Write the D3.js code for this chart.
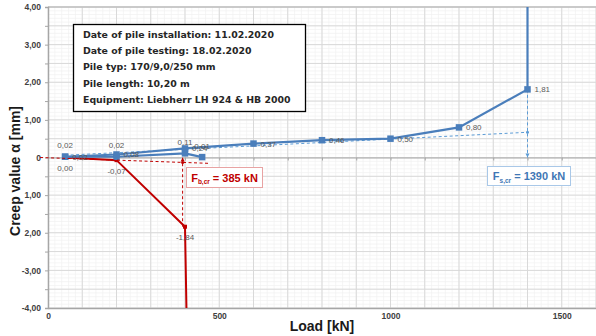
<!DOCTYPE html>
<html><head><meta charset="utf-8">
<script src="https://cdn.jsdelivr.net/npm/d3@7"></script>
<style>
body{margin:0;background:#fff}
svg{display:block;font-family:"Liberation Sans",Arial,sans-serif}
</style>
</head><body><svg id="c" width="596" height="336"></svg>
<script>
// ---- data ----
const loadsA = [50, 200, 400, 600, 800, 1000, 1200, 1400, 1400];
const creepA = [0.02, 0.08, 0.24, 0.37, 0.46, 0.50, 0.80, 1.81, 4.4];
const labelsA = ["0,02", "0,08", "0,24", "0,37", "0,46", "0,50", "0,80", "1,81", null];
const loadsB = [50, 200, 400, 450];
const creepB = [0.02, 0.02, 0.11, 0.01];
const labelsB = ["0,02", "0,02", "0,11", "0,01"];
const loadsR = [50, 200, 400, 405];
const creepR = [0.00, -0.07, -1.84, -4.4];
const labelsR = ["0,00", "-0,07", "-1,84", null];
const tangentSLoads = [50, 1400];
const tangentSCreep = [0.06, 0.67];
const tangentBLoads = [-23, 470];
const tangentBCreep = [0.00, -0.155];
const critLoadsDrawn = [393, 1400];      // where the critical-load arrows meet the axis
const critCreepStart = [-1.84, 1.81];
const critCreepTangent = [-0.13, 0.67];
const critText = ["385 kN", "1390 kN"];
const critSub = ["b,cr", "s,cr"];
const xTicks = [0, 500, 1000, 1500];
const yTicks = [4, 3, 2, 1, 0, -1, -2, -3, -4];
const yTickLabels = ["4,00", "3,00", "2,00", "1,00", "0", "1,00", "2,00", "-3,00", "-4,00"];
const infoLines = [
  "Date of pile installation: 11.02.2020",
  "Date of pile testing: 18.02.2020",
  "Pile typ: 170/9,0/250 mm",
  "Pile length: 10,20 m",
  "Equipment: Liebherr LH 924 & HB 2000"
];

// ---- layout ----
const svg = d3.select("#c");
const L = 48, R = 596, T = 7, B = 308;
const x = d3.scaleLinear([0, 1600], [L, R]);
const y = d3.scaleLinear([-4, 4], [B, T]);
const BLUE = "#4a7ebb", BLUE_L = "#5b9bd5", RED = "#c00000";

svg.append("defs").append("clipPath").attr("id", "clip")
  .append("rect").attr("x", L).attr("y", T).attr("width", R - L).attr("height", B - T);

// grid
const g = svg.append("g");
const minorX = d3.range(0, 1601, 20), minorY = d3.range(-4, 4.001, 0.1);
g.selectAll(".mx").data(minorX).join("line")
  .attr("x1", d => x(d)).attr("x2", d => x(d)).attr("y1", T).attr("y2", B)
  .attr("stroke", "#f0f0f0").attr("stroke-width", 0.7);
g.selectAll(".my").data(minorY).join("line")
  .attr("y1", d => y(d)).attr("y2", d => y(d)).attr("x1", L).attr("x2", R)
  .attr("stroke", "#f0f0f0").attr("stroke-width", 0.7);
g.selectAll(".Mx").data(d3.range(100, 1601, 100)).join("line")
  .attr("x1", d => x(d)).attr("x2", d => x(d)).attr("y1", T).attr("y2", B)
  .attr("stroke", "#d9d9d9").attr("stroke-width", 1);
g.selectAll(".My").data(d3.range(-4, 4.001, 0.5)).join("line")
  .attr("y1", d => y(d)).attr("y2", d => y(d)).attr("x1", L).attr("x2", R)
  .attr("stroke", "#d9d9d9").attr("stroke-width", 1);
// top border
g.append("line").attr("x1", L).attr("x2", R).attr("y1", T).attr("y2", T).attr("stroke", "#bfbfbf").attr("stroke-width", 1.5);

// y axis
const ya = svg.append("g").attr("transform", `translate(${L},0)`)
  .call(d3.axisLeft(y).tickValues(d3.range(-4, 4.001, 0.5)).tickSize(3)
    .tickFormat(d => { const i = yTicks.indexOf(d); return i >= 0 ? yTickLabels[i] : ""; }));
ya.select(".domain").attr("stroke", "#a6a6a6").attr("stroke-width", 1.5);
ya.selectAll(".tick line").attr("stroke", "#a6a6a6");
ya.selectAll("text").attr("font-size", 8.5).attr("font-weight", "bold").attr("fill", "#404040").attr("dx", "-1");

// x axis at bottom
const xa = svg.append("g").attr("transform", `translate(0,${B})`)
  .call(d3.axisBottom(x).tickValues(xTicks).tickSize(0).tickPadding(5).tickFormat(d3.format("d")));
xa.select(".domain").attr("stroke", "#a6a6a6").attr("stroke-width", 1.5);
xa.selectAll("text").attr("font-size", 8.5).attr("font-weight", "bold").attr("fill", "#404040");

// zero line with ticks
const za = svg.append("g").attr("transform", `translate(0,${y(0)})`)
  .call(d3.axisBottom(x).tickValues(d3.range(0, 1601, 100)).tickSize(3).tickFormat(""));
za.select(".domain").attr("stroke", "#a6a6a6");
za.selectAll(".tick line").attr("stroke", "#a6a6a6");

// axis titles
svg.append("text").attr("x", 322).attr("y", 331).attr("text-anchor", "middle")
  .attr("font-size", 14).attr("font-weight", "bold").attr("fill", "#1a1a1a").text("Load [kN]");
svg.append("text").attr("transform", `translate(20,171) rotate(-90)`).attr("text-anchor", "middle")
  .attr("font-size", 14).attr("font-weight", "bold").attr("fill", "#1a1a1a").text("Creep value α [mm]");

// plot content
const p = svg.append("g").attr("clip-path", "url(#clip)");
const line = d3.line().x(d => x(d[0])).y(d => y(d[1]));
const zip = (a, b) => a.map((v, i) => [v, b[i]]);

// dashed tangents
p.append("path").attr("d", line(zip(tangentSLoads, tangentSCreep))).attr("fill", "none")
  .attr("stroke", BLUE_L).attr("stroke-width", 1).attr("stroke-dasharray", "3,2.5");
svg.append("path").attr("d", line(zip(tangentBLoads, tangentBCreep))).attr("fill", "none")
  .attr("stroke", RED).attr("stroke-width", 1).attr("stroke-dasharray", "3,2.5");

// critical vertical arrows
const critCol = [RED, BLUE_L];
critLoadsDrawn.forEach((c, i) => {
  p.append("line").attr("x1", x(c)).attr("x2", x(c)).attr("y1", y(critCreepStart[i])).attr("y2", y(0))
    .attr("stroke", critCol[i]).attr("stroke-width", 1).attr("stroke-dasharray", "3,2.5");
  const dir = critCreepStart[i] < 0 ? 1 : -1; // arrow points toward axis
  const ay = y(0);
  svg.append("path").attr("d", `M${x(c)},${ay} l-2,${dir * 4} l4,0 z`).attr("fill", critCol[i]);
  svg.append("circle").attr("cx", x(c)).attr("cy", y(critCreepTangent[i])).attr("r", 1.5).attr("fill", critCol[i]);
});

// series lines
p.append("path").attr("d", line(zip(loadsR, creepR))).attr("fill", "none").attr("stroke", RED).attr("stroke-width", 2);
p.append("path").attr("d", line(zip(loadsB, creepB))).attr("fill", "none").attr("stroke", BLUE).attr("stroke-width", 2.2);
p.append("path").attr("d", line(zip(loadsA, creepA))).attr("fill", "none").attr("stroke", BLUE).attr("stroke-width", 2.2);

// markers
const sq = (arr, lbl, size, col) => p.selectAll(null).data(zip(arr[0], arr[1]).filter((d, i) => lbl[i] !== null)).join("rect")
  .attr("x", d => x(d[0]) - size / 2).attr("y", d => y(d[1]) - size / 2).attr("width", size).attr("height", size).attr("fill", col);
sq([loadsR, creepR], labelsR, 4, RED);
sq([loadsB, creepB], labelsB, 6.5, BLUE);
sq([loadsA, creepA], labelsA, 6.5, BLUE);

// data labels
const lab = (ls, cs, lbl, dx, dy, anchor) => svg.selectAll(null).data(lbl.map((t, i) => ({t, x: ls[i], y: cs[i]})).filter(d => d.t !== null))
  .join("text").attr("x", d => x(d.x) + dx).attr("y", d => y(d.y) + dy).attr("text-anchor", anchor)
  .attr("dominant-baseline", "central").attr("font-size", 8).attr("fill", "#595959").text(d => d.t);
lab(loadsA, creepA, labelsA, 7, 0.5, "start");
lab(loadsB, creepB, labelsB, 0, -11, "middle");
lab(loadsR, creepR, labelsR, 0, 11, "middle");

// info box
svg.append("rect").attr("x", 73.5).attr("y", 24.5).attr("width", 232).attr("height", 87)
  .attr("fill", "#fff").attr("stroke", "#000").attr("stroke-width", 1.3);
svg.selectAll(null).data(infoLines).join("text")
  .attr("x", 83).attr("y", (d, i) => 38 + i * 16.2)
  .attr("font-family", "DejaVu Sans").attr("font-size", 9.4).attr("font-weight", "bold").attr("fill", "#262626")
  .text(d => d);

// critical load boxes
const boxes = [{bx: 186, by: 167, w: 76, h: 20, col: RED, border: "#e8a3a3"},
               {bx: 487, by: 166, w: 83, h: 19, col: "#3f77b5", border: "#a9c8e8"}];
boxes.forEach((b, i) => {
  svg.append("rect").attr("x", b.bx + 0.5).attr("y", b.by + 0.5).attr("width", b.w).attr("height", b.h)
    .attr("fill", "#fff").attr("stroke", b.border).attr("stroke-width", 1);
  const t = svg.append("text").attr("x", b.bx + b.w / 2 + 0.5).attr("y", b.by + b.h / 2 + 4.5).attr("text-anchor", "middle")
    .attr("font-size", 11).attr("font-weight", "bold").attr("fill", b.col);
  t.append("tspan").text("F");
  t.append("tspan").attr("font-size", 6.5).attr("dy", 2.5).text(critSub[i]);
  t.append("tspan").attr("dy", -2.5).text(" = " + critText[i]);
});
</script>
</body></html>
